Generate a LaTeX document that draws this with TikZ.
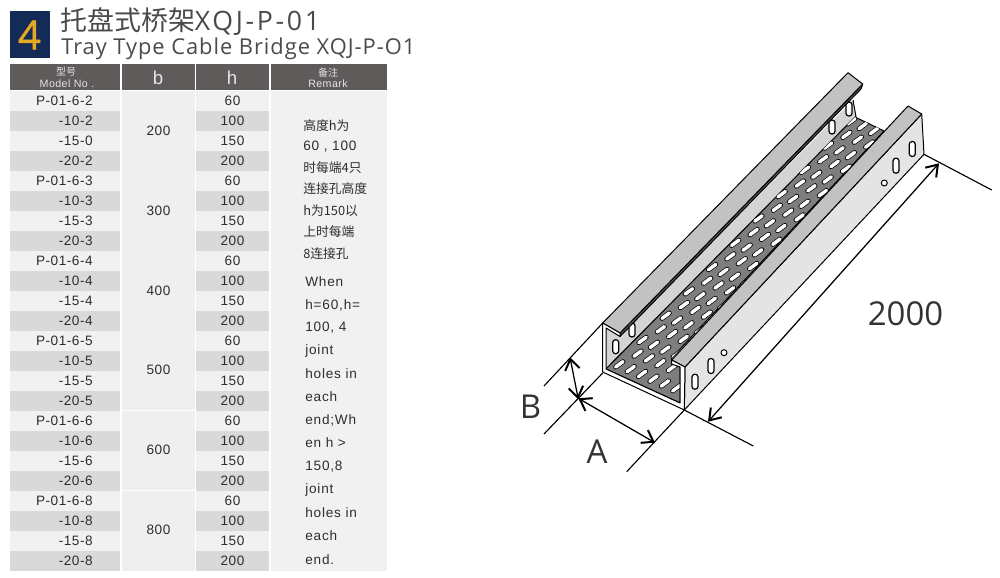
\documentclass[tikz,border=0pt]{standalone}
\usepackage{fontspec}
\usetikzlibrary{arrows.meta}
\setmainfont{Liberation Sans}
\newfontfamily\cjk{Noto Sans CJK SC}
\newfontfamily\ttlfont[LetterSpace=4.4]{Open Sans}
\newfontfamily\ttlfontb[LetterSpace=10]{Open Sans}
\newfontfamily\tblfont[LetterSpace=4]{Liberation Sans}
\newfontfamily\remfont[LetterSpace=6]{Liberation Sans}
\newfontfamily\dimfont{Open Sans}
\newfontfamily\badgefont[FakeBold=1.2]{Open Sans}
\definecolor{navy}{HTML}{142A57}
\definecolor{gold}{HTML}{E5A823}
\definecolor{headbg}{HTML}{5F5B5B}
\definecolor{rowa}{HTML}{F1F1F1}
\definecolor{rowb}{HTML}{D9D9D9}
\definecolor{colbg}{HTML}{EFEFEF}
\definecolor{txt}{HTML}{2E2E2E}
\definecolor{ttl}{HTML}{4A4A4A}
\definecolor{flange}{HTML}{C2C2C2}
\definecolor{wallin}{HTML}{D4D4D4}
\definecolor{wallout}{HTML}{E4E4E4}
\definecolor{floorc}{HTML}{7E7E7E}
\tikzset{
  cell/.style={font=\tblfont\fontsize{10.2}{12}\selectfont,text=txt,inner sep=0pt},
  head/.style={text=white!90!black,inner sep=0pt,align=center},
  rem/.style={font=\remfont\fontsize{10.2}{12}\selectfont,text=txt,inner sep=0pt,anchor=west},
  remc/.style={font=\cjk\fontsize{9.6}{12}\selectfont,text=txt,inner sep=0pt,anchor=west},
  edge/.style={draw=black,line width=0.75pt,line join=round},
  slot/.style={draw=black,fill=white,line width=0.9pt,rounded corners=2.1pt},
  dimline/.style={draw=black,line width=0.85pt},
  dimarrow/.style={draw=black,line width=0.95pt,{Straight Barb[length=8pt,width=11pt,line width=1.5pt]}-{Straight Barb[length=8pt,width=11pt,line width=1.5pt]}},
  dimtext/.style={font=\dimfont\fontsize{24.7}{28}\selectfont,text=black!80,inner sep=0pt}
}
\begin{document}
\begin{tikzpicture}[x=0.75pt,y=-0.75pt]
\useasboundingbox (0,0) rectangle (1000,578);
% title
\fill[navy] (10,11) rectangle (50,58);
\node[text=gold,font=\badgefont\fontsize{30}{32}\selectfont,inner sep=0pt] (badge) at (29.5,35) {4};
\node[anchor=west,inner sep=0pt,text=ttl] (titlezh) at (60,22) {\cjk\fontsize{20.2}{22}\selectfont 托盘式桥架{\ttlfontb\fontsize{20}{22}\selectfont XQJ-P-01}};
\node[anchor=west,inner sep=0pt,text=ttl] (titleen) at (61,48.5) {\ttlfont\fontsize{16.4}{20}\selectfont Tray Type Cable Bridge XQJ-P-O1};
% table header
\fill[headbg] (10,64) rectangle (120,90);
\fill[headbg] (122,64) rectangle (195,90);
\fill[headbg] (196,64) rectangle (269,90);
\fill[headbg] (271,64) rectangle (387,90);
\node[head,font=\cjk\fontsize{7.5}{8}\selectfont] (hm) at (66,72) {型号};
\node[head,font=\tblfont\fontsize{8}{9}\selectfont] (hmb) at (67,83.5) {Model No .};
\node[head,font=\tblfont\fontsize{14}{16}\selectfont] (hb) at (158,78) {b};
\node[head,font=\tblfont\fontsize{14}{16}\selectfont] (hh) at (232,78) {h};
\node[head,font=\cjk\fontsize{7.5}{8}\selectfont] (hr) at (328,73) {备注};
\node[head,font=\tblfont\fontsize{8}{9}\selectfont] (hrb) at (328,84) {Remark};
% table bodies
\fill[colbg] (122,91) rectangle (195,571);
\fill[rowa!80!colbg] (271,91) rectangle (387,571);
\draw[white,line width=0.75pt] (122,410.5) -- (195,410.5) (122,490.5) -- (195,490.5);
\foreach \i in {0,...,23}{
  \pgfmathsetmacro{\ya}{91+20*\i}
  \pgfmathsetmacro{\yb}{111+20*\i}
  \pgfmathtruncatemacro{\odd}{mod(\i,2)}
  \ifnum\odd=0
    \fill[rowa] (10,\ya) rectangle (120,\yb);
    \fill[rowa] (196,\ya) rectangle (269,\yb);
  \else
    \fill[rowb] (10,\ya) rectangle (120,\yb);
    \fill[rowb] (196,\ya) rectangle (269,\yb);
  \fi
}
\foreach \i/\t in {0/P-01-6-2,1/-10-2,2/-15-0,3/-20-2,4/P-01-6-3,5/-10-3,6/-15-3,7/-20-3,8/P-01-6-4,9/-10-4,10/-15-4,11/-20-4,12/P-01-6-5,13/-10-5,14/-15-5,15/-20-5,16/P-01-6-6,17/-10-6,18/-15-6,19/-20-6,20/P-01-6-8,21/-10-8,22/-15-8,23/-20-8}{
  \pgfmathsetmacro{\yc}{101+20*\i}
  \node[cell,anchor=east] (m\i) at (93,\yc) {\t};
}
\foreach \i/\t in {0/60,1/100,2/150,3/200,4/60,5/100,6/150,7/200,8/60,9/100,10/150,11/200,12/60,13/100,14/150,15/200,16/60,17/100,18/150,19/200,20/60,21/100,22/150,23/200}{
  \pgfmathsetmacro{\yc}{101+20*\i}
  \node[cell] (h\i) at (232.5,\yc) {\t};
}
\foreach \n/\y/\t in {b1/130.5/200,b2/211/300,b3/291/400,b4/370/500,b5/450/600,b6/530/800}
  \node[cell] (\n) at (158.5,\y) {\t};
% remark
\foreach \n/\y/\t in {r1/126/高度h为,r3/168/时每端4只,r4/189/连接孔高度,r5/211/h为150以,r6/232/上时每端,r7/254/8连接孔}
  \node[remc] (\n) at (303,\y) {\t};
\node[rem] (r2) at (303,147) {60 , 100};
\foreach \n/\y/\t in {e1/282/When,e2/305/{h=60,h=},e3/328/{100, 4},e4/351/joint,e5/374/holes in,e6/397/each,e7/420/end;Wh,e8/443/en h >,e9/467/{150,8},e10/490/joint,e11/513/holes in,e12/536/each,e13/560/end.}
  \node[rem] (\n) at (305,\y) {\t};
% tray: inner left wall
\fill[wallin] (606,328) -- (620,336) -- (853,100) -- (856,117) -- (606,369) -- cycle;
\draw[edge] (853,100) -- (856,117);
\draw[edge] (606,369) -- (856,117);
% floor
\filldraw[fill=floorc,edge] (606,369) -- (855,117) -- (884,131) -- (671.7,358) -- (671.7,364) -- (680,367) -- (680,403) -- cycle;
\begin{scope}
\clip (606,369) -- (855,117) -- (884,131) -- (671.7,358) -- (671.7,364) -- (680,367) -- (680,403) -- cycle;
\foreach \k in {0,...,10}{
  \foreach \j in {0,...,5}{
    \pgfmathsetmacro{\hx}{619.3+23.2*\k+11.4*\j}
    \pgfmathsetmacro{\hy}{364.3-24.3*\k+4.8*\j}
    \draw[black,line width=3.6pt,line cap=round] (\hx-3.7,\hy+2.7) -- (\hx+3.7,\hy-2.7);
    \draw[white,line width=2.6pt,line cap=round] (\hx-3.7,\hy+2.7) -- (\hx+3.7,\hy-2.7);
  }
}
\foreach \k in {0,...,9}{
  \foreach \j in {0,...,3}{
    \pgfmathsetmacro{\hx}{637.6+23.2*\k+11.4*\j}
    \pgfmathsetmacro{\hy}{353.6-24.3*\k+4.8*\j}
    \draw[black,line width=3.6pt,line cap=round] (\hx-3.7,\hy+2.7) -- (\hx+3.7,\hy-2.7);
    \draw[white,line width=2.6pt,line cap=round] (\hx-3.7,\hy+2.7) -- (\hx+3.7,\hy-2.7);
  }
}
\end{scope}
% slots on inner wall
\foreach \x/\y in {615.7/346.7,632/330,832/127,849/109}
  \draw[slot] (\x-3,\y-7) rectangle (\x+3,\y+7);
% left flange
\filldraw[fill=black!65,edge] (620,333) -- (862.7,84) -- (861,89) -- (620,336.5) -- cycle;
\filldraw[fill=flange,edge] (602.7,323) -- (620,333) -- (862.7,84) -- (848,72.7) -- cycle;
% right wall and flange
\filldraw[fill=wallout,edge] (685,367) -- (684.3,410) -- (924,154.3) -- (921.7,114) -- cycle;
\filldraw[fill=flange,edge] (671.7,360) -- (685,367) -- (921.7,114) -- (908,106) -- cycle;
\foreach \x/\y in {695/381.7,711/366,896/165.7,912.3/149}
  \draw[slot] (\x-3,\y-7.5) rectangle (\x+3,\y+7.5);
\filldraw[fill=white,edge] (724,352.7) circle (3);
\filldraw[fill=white,edge] (884.3,183) circle (3);
% front profile
\filldraw[fill=white,edge] (602.7,323) -- (620,333) -- (620,336.5) -- (606,328) -- (606,369) -- (680,403) -- (680,367) -- (671.7,364) -- (671.7,360) -- (685,367) -- (684.3,410) -- (602.7,372) -- cycle;
% dimension lines
\coordinate (a1) at (602.7,323);
\coordinate (a2) at (544,386);
\coordinate (b1) at (602.7,373);
\coordinate (b2) at (544,434);
\coordinate (c1) at (684.3,410);
\coordinate (c2) at (626.7,471.7);
\coordinate (d2) at (753.3,446);
\coordinate (f1) at (924,154.3);
\coordinate (f2) at (991.7,190);
\draw[dimline] (a1) -- (a2);
\draw[dimline] (b1) -- (b2);
\draw[dimline] (c1) -- (c2);
\draw[dimline] (c1) -- (d2);
\draw[dimline] (f1) -- (f2);
\coordinate (ba) at (570,357.3);
\coordinate (bb) at (578.3,399.3);
\coordinate (aa) at (578.3,398.3);
\coordinate (ab) at (655,442.7);
\coordinate (la) at (708,421.7);
\coordinate (lb) at (939,163.3);
\draw[dimarrow] (ba) -- (bb);
\draw[dimarrow] (aa) -- (ab);
\draw[dimarrow] (la) -- (lb);
\node[dimtext] (labB) at (530.5,407) {B};
\node[dimtext] (labA) at (597,452) {A};
\node[dimtext] (labL) at (905.5,314) {2000};
\end{tikzpicture}
\end{document}
